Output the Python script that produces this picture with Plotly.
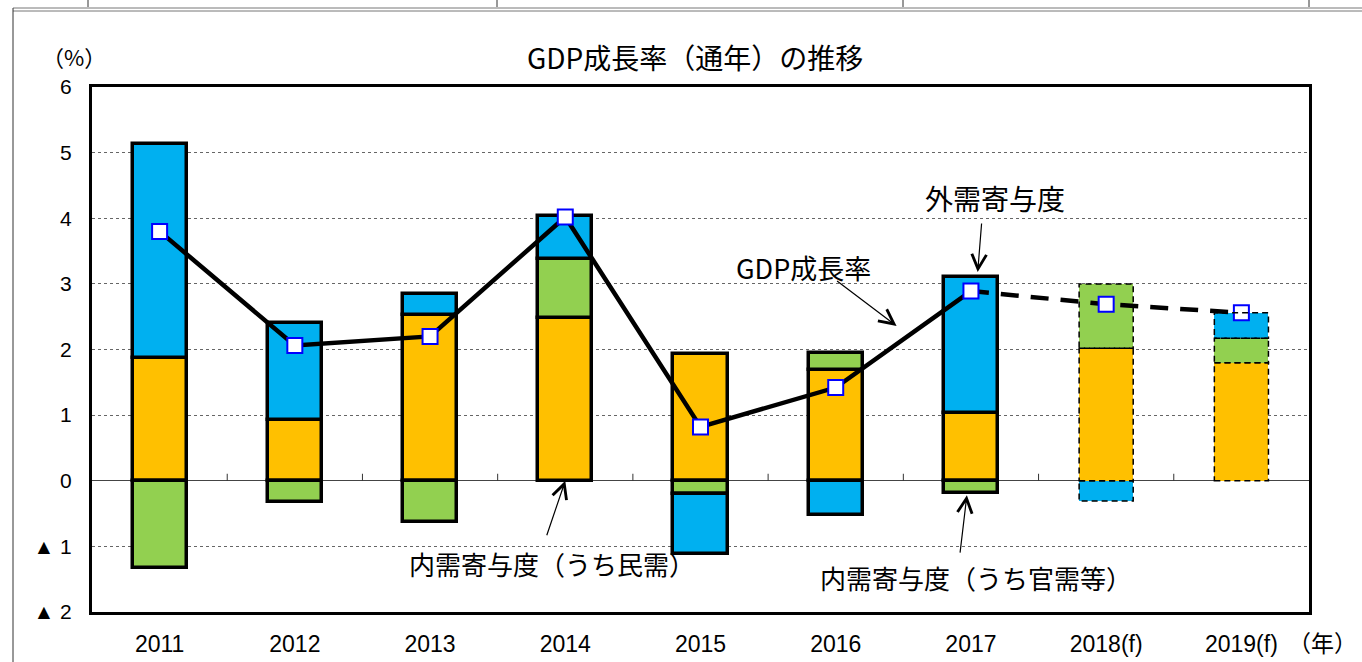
import plotly.graph_objects as go

years = ["2011", "2012", "2013", "2014", "2015", "2016", "2017", "2018(f)", "2019(f)"]
private_dd = [1.87, 0.93, 2.53, 2.48, 1.93, 1.69, 1.03, 2.02, 1.80]
public_dd = [-1.33, -0.33, -0.63, 0.90, -0.20, 0.26, -0.19, 0.98, 0.37]
external = [3.26, 1.47, 0.31, 0.66, -0.92, -0.52, 2.07, -0.31, 0.39]
gdp = [3.80, 2.06, 2.20, 4.02, 0.82, 1.42, 2.89, 2.69, 2.56]
forecast = [False, False, False, False, False, False, False, True, True]
ytick_vals = [-2, -1, 0, 1, 2, 3, 4, 5, 6]
ytick_text = ["▲ 2", "▲ 1", "0", "1", "2", "3", "4", "5", "6"]

W, H = 1362, 662
L, R, T, B = 92, 53, 87, 50
PW, PH = W - L - R, H - T - B
BAR_W = 0.4

FONT_NUM = "Liberation Sans, Arial, Noto Sans CJK JP, sans-serif"
FONT_JP = "Noto Sans CJK JP, sans-serif"

BLUE, ORANGE, GREEN = "#00B0F0", "#FFC000", "#92D050"

x = list(range(len(years)))
lw = [0 if f else 3.5 for f in forecast]

fig = go.Figure()
for name, vals, col in [("内需寄与度（うち民需）", private_dd, ORANGE),
                        ("内需寄与度（うち官需等）", public_dd, GREEN),
                        ("外需寄与度", external, BLUE)]:
    fig.add_trace(go.Bar(x=x, y=vals, name=name, width=BAR_W,
                         marker=dict(color=col, line=dict(color="black", width=lw)),
                         showlegend=False))

shapes = []
# dashed outlines for forecast bars, computed from stacked data
for i, f in enumerate(forecast):
    if not f:
        continue
    pos, neg = 0.0, 0.0
    for vals in (private_dd, public_dd, external):
        v = vals[i]
        if v >= 0:
            y0, y1 = pos, pos + v
            pos += v
        else:
            y0, y1 = neg, neg + v
            neg += v
        shapes.append(dict(type="rect", xref="x", yref="y",
                           x0=i - BAR_W / 2, x1=i + BAR_W / 2, y0=y0, y1=y1,
                           line=dict(color="black", width=1.5, dash="6px,4px"),
                           layer="above"))

# small ticks on the zero line between categories
for i in range(len(years) - 1):
    shapes.append(dict(type="line", xref="x", yref="y", x0=i + 0.5, x1=i + 0.5,
                       ysizemode="pixel", yanchor=0, y0=0, y1=7,
                       line=dict(color="#333", width=1)))

# outer page frame (decoration)
def px(p):
    return (p - L) / PW

def py(p):
    return (H - B - p) / PH

shapes.append(dict(type="line", xref="paper", yref="paper", x0=px(13), x1=px(W),
                   y0=py(8), y1=py(8), line=dict(color="#777", width=1)))
shapes.append(dict(type="line", xref="paper", yref="paper", x0=px(13), x1=px(W),
                   y0=py(11), y1=py(11), line=dict(color="#777", width=1)))
shapes.append(dict(type="line", xref="paper", yref="paper", x0=px(13), x1=px(13),
                   y0=py(8), y1=py(H), line=dict(color="#333", width=1)))
for vx in (88, 497, 903, 1309):
    shapes.append(dict(type="line", xref="paper", yref="paper", x0=px(vx), x1=px(vx),
                       y0=py(0), y1=py(7), line=dict(color="#333", width=1)))

# GDP line
fig.add_trace(go.Scatter(x=x[:7], y=gdp[:7], mode="lines",
                         line=dict(color="black", width=4.5), showlegend=False))
fig.add_trace(go.Scatter(x=x[6:], y=gdp[6:], mode="lines",
                         line=dict(color="black", width=4.5, dash="18px,12px"),
                         showlegend=False))
fig.add_trace(go.Scatter(x=x, y=gdp, mode="markers", name="GDP成長率",
                         marker=dict(symbol="square", size=15, color="white",
                                     line=dict(color="#0000FF", width=2)),
                         showlegend=False))


def note(text, cx, cy, size, family=FONT_JP):
    return dict(text=text, xref="paper", yref="paper", x=px(cx), y=py(cy),
                xanchor="center", yanchor="middle", showarrow=False,
                font=dict(size=size, family=family, color="black"))


annotations = [
    note("GDP成長率（通年）の推移", 695, 57, 28),
    note("（%）", 74, 56, 22),
    note("（年）", 1322, 642, 23),
    note("外需寄与度", 995, 198, 28),
    note("GDP成長率", 803, 267, 27),
    note("内需寄与度（うち民需）", 552, 563, 26),
    note("内需寄与度（うち官需等）", 976, 577, 26),
]
# arrows (text-less), tail given as pixel offsets from the tip
arrows = [
    (6.05, 3.18, 4, -50),    # 外需寄与度
    (5.45, 2.36, -61, -46),  # GDP成長率
    (3.0, 0.0, -19, 56),     # 民需
    (5.97, -0.22, -7, 59),   # 官需等
]
for ax_, ay_, dx, dy in arrows:
    annotations.append(dict(text="", xref="x", yref="y", x=ax_, y=ay_, ax=dx, ay=dy,
                            showarrow=True, arrowhead=5, arrowsize=2.4, arrowwidth=1.2,
                            arrowcolor="black", standoff=0))

fig.update_layout(
    width=W, height=H,
    margin=dict(l=L, r=R, t=T, b=B, pad=0, autoexpand=False),
    paper_bgcolor="white", plot_bgcolor="white",
    barmode="relative", bargap=0,
    showlegend=False,
    shapes=shapes, annotations=annotations,
    font=dict(family=FONT_NUM, color="black"),
    xaxis=dict(range=[-0.5, 8.5], tickvals=x, ticktext=years, showgrid=False,
               zeroline=False, showline=True, linecolor="black", linewidth=3, mirror=True,
               automargin=False,
               ticks="", tickfont=dict(size=23, family=FONT_NUM), ticklabelstandoff=9),
    yaxis=dict(range=[-2, 6], tickvals=ytick_vals, ticktext=ytick_text,
               showgrid=True, gridcolor="#666", griddash="dot", gridwidth=1,
               zeroline=True, zerolinecolor="#444", zerolinewidth=1,
               showline=True, linecolor="black", linewidth=3, mirror=True,
               automargin=False,
               ticks="", tickfont=dict(size=21, family=FONT_NUM), ticklabelstandoff=13),
)

fig.write_html("out.html")
